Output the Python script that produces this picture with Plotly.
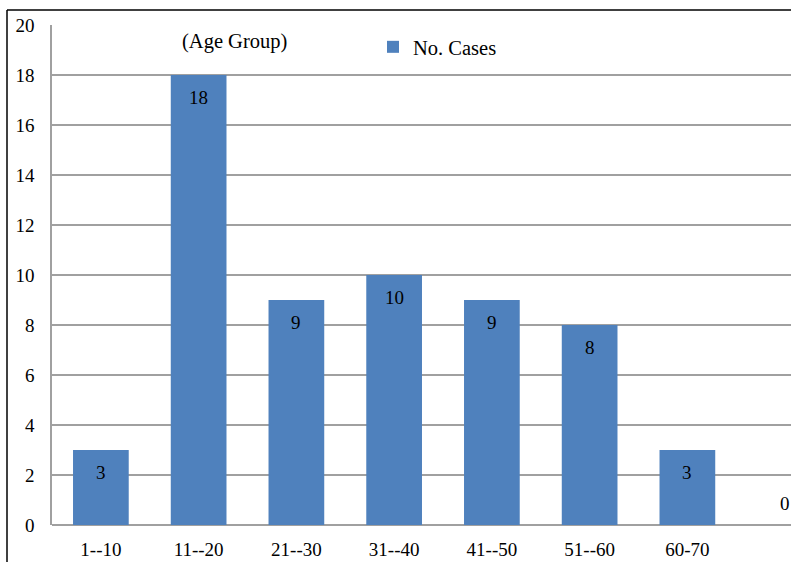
import plotly.graph_objects as go

# Age-group distribution of cases
categories = ["1--10", "11--20", "21--30", "31--40", "41--50", "51--60", "60-70", ""]
cases = [3, 18, 9, 10, 9, 8, 3, 0]
y_ticks = [0, 2, 4, 6, 8, 10, 12, 14, 16, 18, 20]

BAR = "#4F81BD"
GRID = "#A0A0A0"
FONT = "Liberation Serif, Times New Roman, serif"

W, H = 791, 562
ML, MT, MB, MR = 52, 25, 37, 0
pw, ph = W - ML - MR, H - MT - MB


def px(xp):
    return (xp - ML) / pw


def py(yp):
    return (H - MB - yp) / ph


xs = list(range(len(categories)))

fig = go.Figure()
fig.add_trace(go.Bar(
    x=xs, y=cases, name="No. Cases", width=0.57,
    marker=dict(color=BAR, line=dict(width=0)),
    showlegend=True,
))

# value labels: inside the top of each bar, just above the axis for zero
for x, v in zip(xs, cases):
    fig.add_annotation(
        x=x, y=v, text=str(v), showarrow=False,
        xref="x", yref="y", xanchor="center", yanchor="middle",
        yshift=-22 if v > 0 else 22,
        font=dict(family=FONT, size=19, color="black"),
    )

fig.add_annotation(
    x=px(234), y=py(41), xref="paper", yref="paper", text="(Age Group)",
    xanchor="center", yanchor="middle",
    showarrow=False, font=dict(family=FONT, size=20.5, color="black"),
)

# outer frame lines (left and top)
fig.add_shape(type="line", xref="paper", yref="paper",
              x0=px(7), x1=px(7), y0=py(10), y1=py(600),
              line=dict(color="black", width=1.5))
fig.add_shape(type="line", xref="paper", yref="paper",
              x0=px(7), x1=px(820), y0=py(10), y1=py(10),
              line=dict(color="black", width=1.5))

fig.update_layout(
    width=W, height=H,
    margin=dict(l=ML, r=MR, t=MT, b=MB, pad=0),
    paper_bgcolor="white", plot_bgcolor="white",
    font=dict(family=FONT, size=19, color="black"),
    bargap=0.43,
    legend=dict(
        x=px(373), y=py(47), xanchor="left", yanchor="middle",
        bgcolor="rgba(0,0,0,0)", font=dict(family=FONT, size=20.5, color="black"),
        itemwidth=30,
    ),
    xaxis=dict(
        range=[-0.5, 7.06], tickmode="array", tickvals=xs, ticktext=categories,
        showgrid=False, showline=False, zeroline=False, ticks="",
        ticklabelstandoff=11,
        tickfont=dict(family=FONT, size=19, color="black"),
    ),
    yaxis=dict(
        range=[0, 20], tickmode="array", tickvals=y_ticks,
        showgrid=True, gridcolor=GRID, gridwidth=1.5,
        showline=True, linecolor=GRID, linewidth=1.5,
        zeroline=True, zerolinecolor=GRID, zerolinewidth=1.5,
        ticks="", ticklabelstandoff=12,
        tickfont=dict(family=FONT, size=19, color="black"),
    ),
)

fig.write_html("out.html")
